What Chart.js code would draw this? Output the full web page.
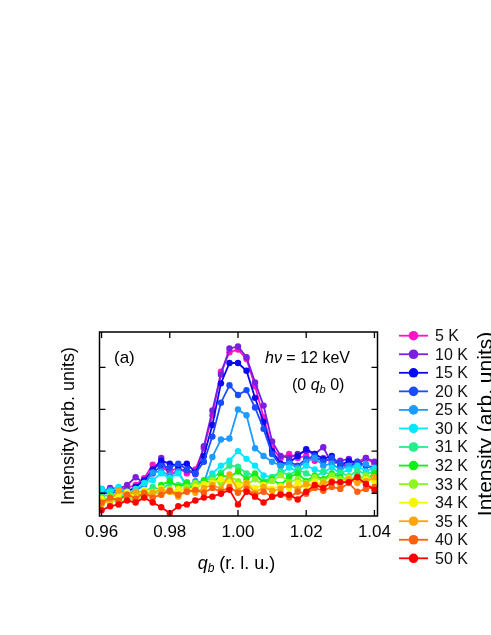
<!DOCTYPE html>
<html><head><meta charset="utf-8">
<script src="https://cdn.jsdelivr.net/npm/chart.js@4/dist/chart.umd.min.js"></script>
<style>html,body{margin:0;padding:0;background:#fff;} canvas{display:block;}</style>
</head><body>
<canvas id="c" width="491" height="635"></canvas>
<script>
// q_b positions (r.l.u.)
const qb = [0.96, 0.9625, 0.965, 0.9675, 0.97, 0.9725, 0.975, 0.9775, 0.98, 0.9825, 0.985, 0.9875, 0.99, 0.9925, 0.995, 0.9975, 1.0, 1.0025, 1.005, 1.0075, 1.01, 1.0125, 1.015, 1.0175, 1.02, 1.0225, 1.025, 1.0275, 1.03, 1.0325, 1.035, 1.0375, 1.04];
const temps = ['5 K','10 K','15 K','20 K','25 K','30 K','31 K','32 K','33 K','34 K','35 K','40 K','50 K'];
const colors = ['#ff14c8','#7a1fe0','#0a0af0','#1a4cff','#1e9bff','#00e8ff','#22ee8c','#14ee14','#8cf522','#f6f600','#ffa500','#ff6010','#ff0000'];

const I5  = [22,25,27,29,32,39,53,50,46,50,44,48,70,104,149,169,172,162,134,102,70,60,64,60,62,57,60,56,54,52,56,60,54];
const I10 = [25,29,28,32,40,34,45,60,41,48,47,43,72,109,146,173,175,164,138,114,77,62,60,64,67,64,71,54,57,59,52,60,56];
const I15 = [28,25,27,25,30,37,48,57,54,52,54,45,62,94,137,158,158,150,122,97,67,54,55,62,69,64,59,62,52,57,55,52,50];
const I20 = [25,23,26,27,25,34,44,52,50,54,48,44,56,82,117,135,125,130,112,90,64,52,56,52,59,62,56,60,54,50,56,52,48];
const I25 = [23,27,24,22,26,32,45,46,42,46,30,36,34,61,79,80,110,104,70,62,56,52,54,50,56,60,52,54,48,52,50,54,46];
const I30 = [28,25,30,23,28,34,37,44,39,44,32,27,36,44,52,57,67,59,52,42,40,44,50,46,52,48,45,50,44,48,52,46,50];
const I31 = [20,22,17,24,22,25,30,27,34,32,35,32,36,40,45,52,51,44,42,36,40,46,42,48,44,40,46,42,45,41,47,43,46];
const I32 = [19,15,22,18,24,26,20,32,36,30,34,28,37,34,42,40,46,38,44,34,38,32,40,44,36,42,38,44,40,36,42,38,44];
const I33 = [14,20,12,19,16,22,25,22,28,24,30,34,32,37,34,41,36,32,38,32,36,42,35,38,34,40,36,42,38,40,36,42,38];
const I34 = [18,16,22,25,20,27,24,29,25,28,26,30,33,34,38,35,32,34,29,32,28,31,29,34,30,36,32,37,34,39,35,38,36];
const I35 = [12,17,26,22,25,19,24,27,25,20,27,24,29,32,28,43,26,34,24,30,26,28,32,28,33,30,34,36,32,38,34,36,40];
const I40 = [14,19,16,22,18,24,19,22,26,22,25,27,24,29,25,30,24,28,22,25,20,23,19,25,23,29,26,30,28,34,25,28,30];
const I50 = [6,10,12,16,14,19,14,9,3,10,12,16,19,20,23,27,12,25,20,14,20,22,22,17,25,32,29,35,35,35,40,33,27];

const xTicks = [0.96, 0.98, 1.00, 1.02, 1.04];
const yTicks = [23.5, 67, 110, 153.5];

const FONT = "'Liberation Sans', Arial, Helvetica, sans-serif";
Chart.defaults.font.family = FONT;

const series = [I5,I10,I15,I20,I25,I30,I31,I32,I33,I34,I35,I40,I50];
const datasets = series.map((d,i)=>({
  label: temps[i],
  data: d.map((v,j)=>({x: qb[j], y: v})),
  borderColor: colors[i],
  backgroundColor: colors[i],
  pointBackgroundColor: colors[i],
  pointBorderWidth: 0,
  pointRadius: 3.2,
  borderWidth: 1.8,
  tension: 0,
  order: series.length - i
}));

function drawRich(ctx, segs, x, y) {
  let cx = x;
  segs.forEach(s => {
    ctx.font = (s.italic ? 'italic ' : '') + s.size + 'px ' + FONT;
    ctx.fillText(s.t, cx, y + (s.dy || 0));
    cx += ctx.measureText(s.t).width;
  });
}
function richWidth(ctx, segs) {
  let w = 0;
  segs.forEach(s => { ctx.font = (s.italic ? 'italic ' : '') + s.size + 'px ' + FONT; w += ctx.measureText(s.t).width; });
  return w;
}

const deco = {
  id: 'deco',
  afterDraw(chart) {
    const ctx = chart.ctx, a = chart.chartArea;
    const xs = chart.scales.x, ys = chart.scales.y;
    ctx.save();
    // frame
    ctx.strokeStyle = '#000'; ctx.lineWidth = 1.5;
    ctx.strokeRect(a.left, a.top, a.right - a.left, a.bottom - a.top);
    // inward ticks
    ctx.lineWidth = 1.3;
    ctx.beginPath();
    xTicks.forEach(v => {
      const px = xs.getPixelForValue(v);
      ctx.moveTo(px, a.bottom); ctx.lineTo(px, a.bottom - 6);
      ctx.moveTo(px, a.top); ctx.lineTo(px, a.top + 6);
    });
    yTicks.forEach(v => {
      const py = ys.getPixelForValue(v);
      ctx.moveTo(a.left, py); ctx.lineTo(a.left + 6, py);
      ctx.moveTo(a.right, py); ctx.lineTo(a.right - 6, py);
    });
    ctx.stroke();

    ctx.fillStyle = '#000';
    ctx.textBaseline = 'middle';
    ctx.textAlign = 'left';
    // annotations
    drawRich(ctx, [{t:'(a)', size:17}], 114, 358);
    drawRich(ctx, [{t:'hν', size:16, italic:true}, {t:' = 12 keV', size:16}], 265, 359);
    drawRich(ctx, [{t:'(0 ', size:16}, {t:'q', size:16, italic:true}, {t:'b', size:11, italic:true, dy:4}, {t:' 0)', size:16}], 292, 386);
    // x title
    const xt = [{t:'q', size:18, italic:true}, {t:'b', size:12, italic:true, dy:5}, {t:' (r. l. u.)', size:18}];
    const xw = richWidth(ctx, xt);
    drawRich(ctx, xt, (a.left + a.right)/2 - xw/2 - 2, 564);
    // y titles
    ctx.save();
    ctx.translate(69, (a.top + a.bottom)/2 + 2);
    ctx.rotate(-Math.PI/2);
    ctx.textAlign = 'center';
    ctx.font = '18px ' + FONT;
    ctx.fillText('Intensity (arb. units)', 0, 0);
    ctx.restore();
    ctx.save();
    ctx.translate(486, 424);
    ctx.rotate(-Math.PI/2);
    ctx.textAlign = 'center';
    ctx.font = '21px ' + FONT;
    ctx.fillText('Intensity (arb. units)', 0, 0);
    ctx.restore();
    // legend
    const ly0 = 335.7, ldy = 18.55;
    chart.data.datasets.forEach((ds, i) => {
      const y = ly0 + i * ldy;
      ctx.strokeStyle = ds.borderColor; ctx.lineWidth = 1.8;
      ctx.beginPath(); ctx.moveTo(399, y); ctx.lineTo(428, y); ctx.stroke();
      ctx.fillStyle = ds.borderColor;
      ctx.beginPath(); ctx.arc(413.5, y, 4.8, 0, Math.PI*2); ctx.fill();
      ctx.fillStyle = '#111';
      ctx.font = '16px ' + FONT;
      ctx.textAlign = 'left';
      ctx.fillText(ds.label, 435, y + 1);
    });
    ctx.restore();
  }
};

new Chart(document.getElementById('c'), {
  type: 'line',
  data: { datasets },
  options: {
    responsive: false,
    animation: false,
    events: [],
    layout: { padding: { left: 99.5, right: 113.5, top: 332, bottom: 86.6 } },
    plugins: { legend: { display: false }, tooltip: { enabled: false } },
    scales: {
      x: {
        type: 'linear', min: 0.9594, max: 1.0409,
        afterBuildTicks: s => { s.ticks = xTicks.map(v => ({value: v})); },
        ticks: { callback: v => v.toFixed(2), font: { size: 17 }, color: '#000', padding: 6, maxRotation: 0, autoSkip: false },
        grid: { display: false, drawTicks: false },
        border: { display: false }
      },
      y: {
        type: 'linear', min: 0, max: 190, display: false,
        afterBuildTicks: s => { s.ticks = yTicks.map(v => ({value: v})); }
      }
    }
  },
  plugins: [deco]
});
</script>
</body></html>
